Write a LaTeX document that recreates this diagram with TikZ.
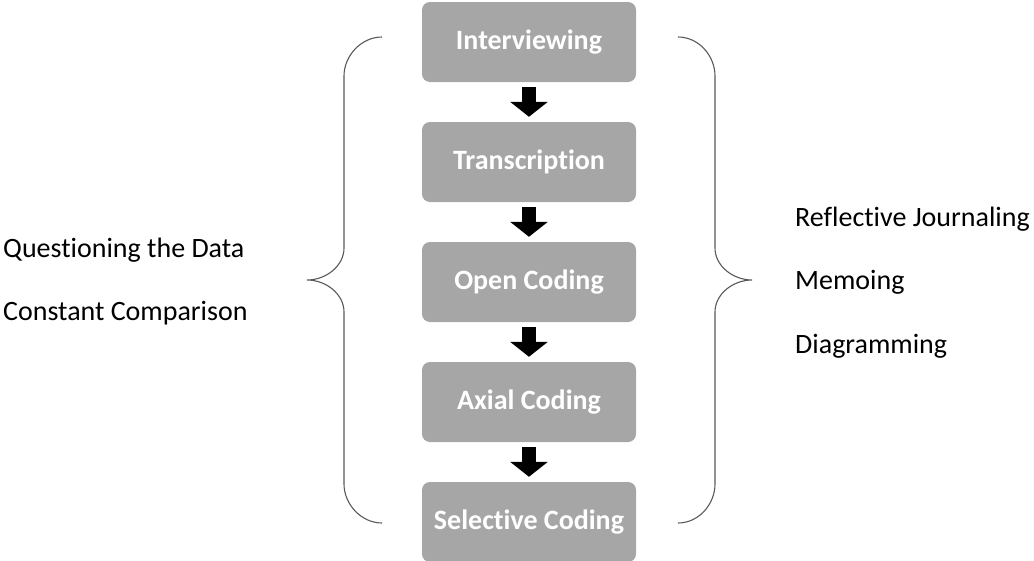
\documentclass[tikz,border=0pt]{standalone}
\usepackage{fontspec}
\setmainfont{Carlito}[RawFeature={-liga;-clig;-calt;-dlig}]
\usetikzlibrary{arrows.meta}
\definecolor{boxgray}{HTML}{A6A6A6}
\definecolor{bracegray}{HTML}{595959}
\tikzset{
  stepbox/.style={draw=none, fill=boxgray, rounded corners=8pt, minimum width=214pt, minimum height=80pt, text=white, font=\fontsize{28}{32}\selectfont\bfseries, inner sep=0pt},
  fatarrow/.style={draw=black, line width=14pt, -{Triangle[width=37pt,length=15pt]}, shorten <=5pt, shorten >=5pt},
  brace/.style={draw=bracegray, line width=1.1pt},
  sidetext/.style={anchor=base west, inner sep=0pt, font=\fontsize{28}{32}\selectfont}
}
\begin{document}
\begin{tikzpicture}[x=1pt,y=-1pt]
\useasboundingbox (0,0) rectangle (1034,560);
\node[stepbox] (s1) at (529,42) {Interviewing};
\node[stepbox] (s2) at (529,162) {Transcription};
\node[stepbox] (s3) at (529,282) {Open Coding};
\node[stepbox] (s4) at (529,402) {Axial Coding};
\node[stepbox] (s5) at (529,522) {Selective Coding};
\draw[fatarrow] (s1.south) -- (s2.north);
\draw[fatarrow] (s2.south) -- (s3.north);
\draw[fatarrow] (s3.south) -- (s4.north);
\draw[fatarrow] (s4.south) -- (s5.north);
% left brace
\coordinate (lt) at (382,37);
\coordinate (ltip) at (307,280);
\coordinate (lb) at (382,523);
\draw[brace] (lt) .. controls (361,37) and (344,56) .. (344,76) -- (344,248)
  .. controls (344,266) and (326,280) .. (ltip)
  .. controls (326,280) and (344,294) .. (344,312) -- (344,484)
  .. controls (344,504) and (361,523) .. (lb);
% right brace
\coordinate (rt) at (678,37);
\coordinate (rtip) at (752,280);
\coordinate (rb) at (678,523);
\draw[brace] (rt) .. controls (699,37) and (715,56) .. (715,76) -- (715,248)
  .. controls (715,266) and (733,280) .. (rtip)
  .. controls (733,280) and (715,294) .. (715,312) -- (715,484)
  .. controls (715,504) and (699,523) .. (rb);
\node[sidetext] (q) at (3,257) {Questioning the Data};
\node[sidetext] (c) at (3,320) {Constant Comparison};
\node[sidetext] (r) at (795,226) {Reflective Journaling};
\node[sidetext] (m) at (795,289) {Memoing};
\node[sidetext] (d) at (795,353) {Diagramming};
\end{tikzpicture}
\end{document}
